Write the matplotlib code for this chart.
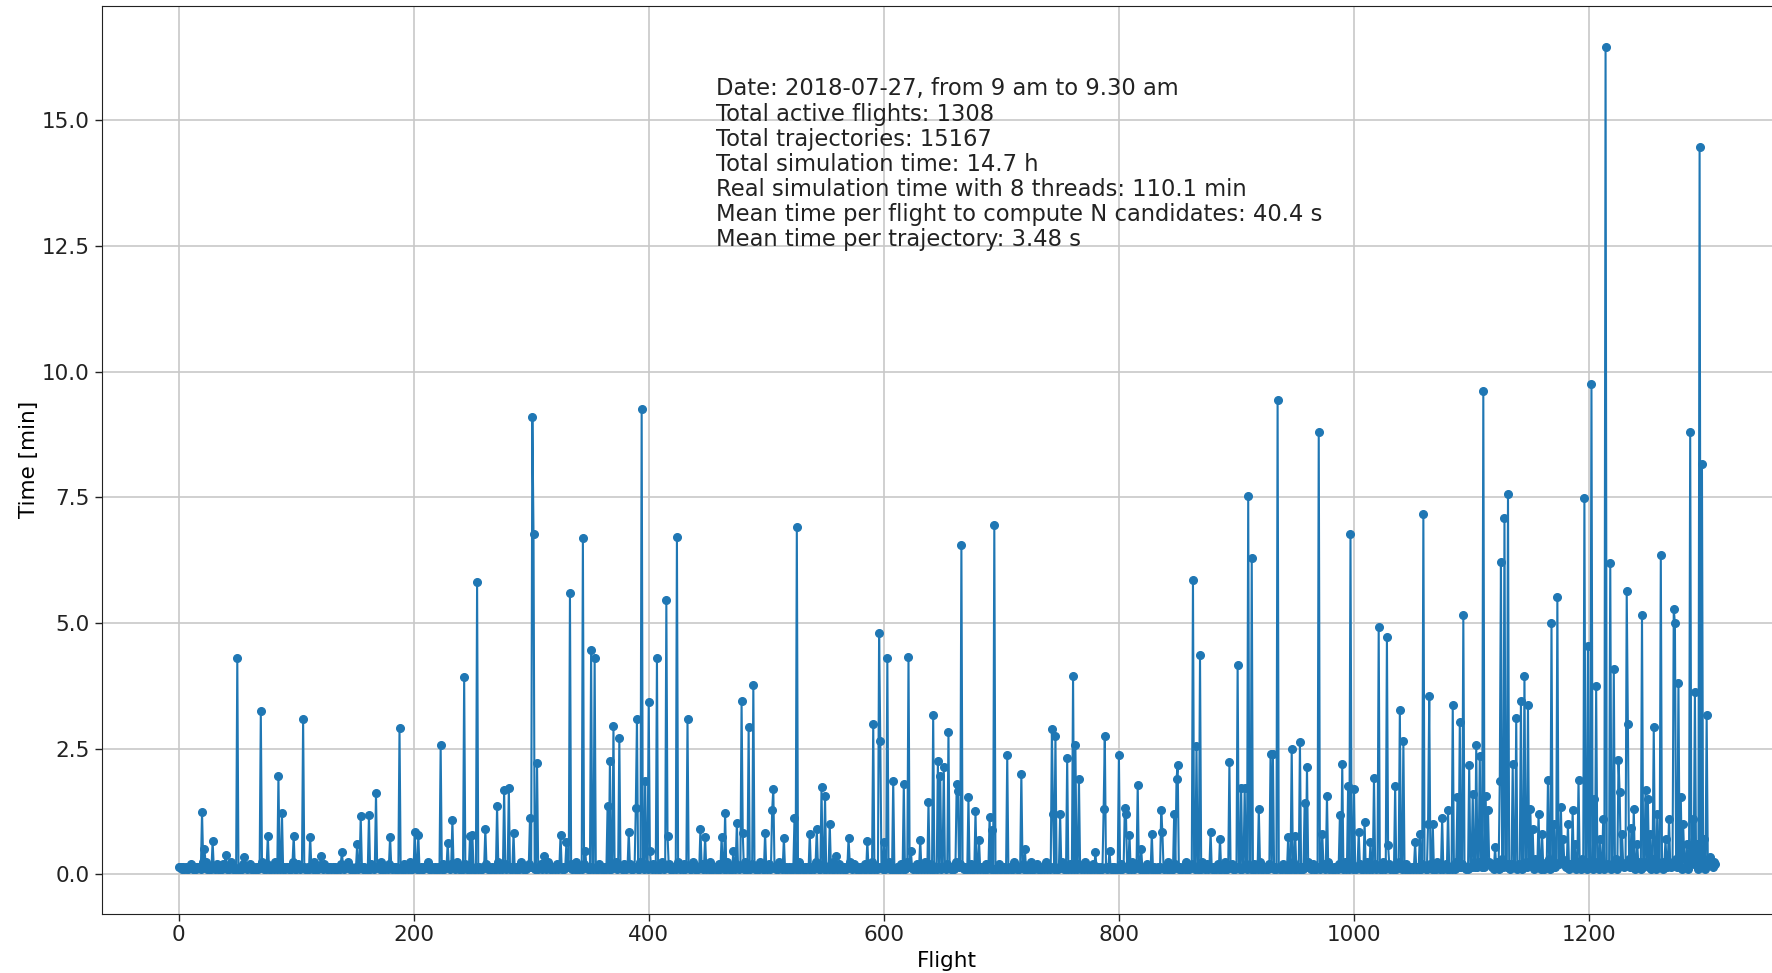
import numpy as np
import matplotlib
matplotlib.use('Agg')
import matplotlib.pyplot as plt

# --- Baseline computation time per flight (digit d -> d * 0.05 min) ---
base_rows = [
    "3332323223 3422323332 3525232322 3234223243 3232352322 3223242323 3422322323 2532243232 3253222342 3233222532",
    "2342332322 3223252322 3232432233 2323223242 3233532322 2342323232 2232432323 3252232324 2323232232 3242323522",
    "3232423223 3352323232 2323242332 3242323532 2323423232 3223523223 3242322323 2352323242 3223242323 2532322343",
    "3232232342 3232532323 2342322323 2332423252 3232342323 2232523242 3223232423 2352323224 3232423232 3225232342",
    "3232423223 2532323422 3232253232 4232322352 2323242322 3252323232 4223232523 2232423232 3252232342 2323253223",
    "3242322323 2532342323 2232423252 3223232423 3252322342 3232232523 2342323223 2532342322 3232423232 5223234232",
    "3232523242 2323242323 5232323242 3223253232 4232322352 3232423223 2532342323 2232423252 3223232423 3252322342",
    "2323242323 2532323242 3223252323 4232232352 3232423223 2352323242 3223242323 2532322342 3232232523 2342323223",
    "3242322323 2532342323 2232423252 3223232423 3252322342 3232232523 2342323223 2532342322 3232423232 5223234232",
    "3232523242 2323242323 5232323242 3223253232 4232322352 3232423223 2532342323 2232423252 3223232423 3252322342",
    "2323242323 2532323242 3223252323 4232232352 3232423223 2352323242 3223242323 2532322342 3232232523 2342323223",
    "3453435243 5324354342 4352436324 3542453342 4352345324 3542634352 4324536243 5342453624 3452436342 5342634524",
    "4352643524 3462534352 4536243524 3452634352 4635243524 5342635243 4352463524 3542634352 4635243524 3542634352",
    "54634354",
]

# --- Spikes: flight index and time [min] ---
peak_idx = [
    20, 22, 29, 40, 50, 56, 70, 76, 85, 88, 98, 106, 112, 121, 139, 152, 155, 162, 168, 180,
    188, 201, 204, 223, 229, 233, 243, 248, 250, 254, 261, 271, 277, 281, 285, 299, 301, 302, 305, 311,
    325, 330, 333, 344, 346, 351, 354, 365, 367, 370, 375, 383, 389, 390, 394, 397, 400, 401, 407, 415,
    416, 424, 433, 444, 448, 462, 465, 472, 475, 479, 480, 485, 489, 499, 505, 506, 515, 524, 526, 537,
    543, 547, 550, 554, 559, 570, 586, 591, 596, 597, 600, 603, 608, 617, 621, 623, 631, 638, 642, 646,
    648, 651, 655, 662, 663, 666, 672, 678, 681, 690, 692, 694, 705, 717, 720, 743, 744, 746, 750, 756,
    761, 763, 766, 780, 787, 788, 792, 800, 805, 806, 809, 816, 819, 828, 836, 837, 847, 849, 850, 863,
    866, 869, 878, 886, 894, 901, 904, 907, 910, 913, 919, 929, 931, 935, 944, 947, 950, 954, 958, 960,
    970, 973, 977, 988, 990, 995, 997, 1000, 1004, 1009, 1014, 1017, 1021, 1028, 1029, 1035, 1039, 1042, 1052, 1056,
    1059, 1063, 1064, 1067, 1075, 1080, 1084, 1088, 1090, 1093, 1098, 1101, 1104, 1107, 1110, 1112, 1114, 1120, 1124, 1125,
    1128, 1131, 1135, 1138, 1142, 1145, 1148, 1150, 1152, 1157, 1160, 1165, 1168, 1170, 1173, 1176, 1178, 1182, 1186, 1188,
    1191, 1196, 1199, 1202, 1204, 1206, 1209, 1212, 1214, 1218, 1221, 1225, 1226, 1228, 1232, 1233, 1236, 1238, 1241, 1245,
    1248, 1250, 1252, 1255, 1258, 1261, 1265, 1268, 1272, 1273, 1276, 1278, 1280, 1283, 1286, 1288, 1290, 1292, 1294, 1296,
    1298, 1300, 1303,
]
peak_val = [
    1.23, 0.50, 0.66, 0.38, 4.30, 0.35, 3.24, 0.77, 1.96, 1.21, 0.77, 3.09, 0.75, 0.37, 0.44, 0.60, 1.15, 1.17, 1.61, 0.74,
    2.91, 0.84, 0.79, 2.58, 0.63, 1.08, 3.93, 0.77, 0.79, 5.82, 0.90, 1.35, 1.68, 1.72, 0.82, 1.12, 9.09, 6.77, 2.21, 0.37,
    0.79, 0.64, 5.59, 6.69, 0.47, 4.46, 4.30, 1.35, 2.26, 2.94, 2.71, 0.84, 1.32, 3.08, 9.25, 1.86, 3.43, 0.47, 4.30, 5.45,
    0.77, 6.70, 3.08, 0.90, 0.74, 0.74, 1.22, 0.47, 1.03, 3.45, 0.82, 2.92, 3.77, 0.82, 1.27, 1.70, 0.72, 1.11, 6.90, 0.80,
    0.90, 1.74, 1.55, 1.01, 0.37, 0.72, 0.67, 2.99, 4.80, 2.66, 0.64, 4.30, 1.86, 1.80, 4.32, 0.47, 0.69, 1.43, 3.17, 2.26,
    1.96, 2.13, 2.84, 1.80, 1.66, 6.56, 1.53, 1.25, 0.68, 1.13, 0.88, 6.94, 2.37, 2.00, 0.50, 2.89, 1.20, 2.76, 1.20, 2.31,
    3.94, 2.57, 1.90, 0.44, 1.30, 2.76, 0.47, 2.37, 1.31, 1.19, 0.79, 1.78, 0.50, 0.81, 1.28, 0.84, 1.19, 1.90, 2.17, 5.86,
    2.56, 4.36, 0.85, 0.71, 2.23, 4.17, 1.72, 1.72, 7.52, 6.29, 1.30, 2.39, 2.39, 9.43, 0.74, 2.50, 0.77, 2.63, 1.41, 2.13,
    8.79, 0.80, 1.55, 1.17, 2.19, 1.76, 6.77, 1.70, 0.84, 1.05, 0.64, 1.91, 4.91, 4.72, 0.58, 1.76, 3.27, 2.65, 0.64, 0.80,
    7.17, 1.00, 3.54, 1.00, 1.12, 1.27, 3.37, 1.53, 3.02, 5.15, 2.17, 1.60, 2.58, 2.35, 9.62, 1.56, 1.27, 0.54, 1.86, 6.21,
    7.08, 7.57, 2.19, 3.10, 3.45, 3.95, 3.36, 1.30, 0.90, 1.20, 0.80, 1.88, 4.99, 1.00, 5.52, 1.33, 0.70, 1.00, 1.27, 0.60,
    1.88, 7.49, 4.54, 9.75, 1.50, 3.74, 0.70, 1.10, 16.46, 6.20, 4.09, 2.27, 1.63, 0.80, 5.63, 2.98, 0.93, 1.30, 0.60, 5.16,
    1.67, 1.50, 0.80, 2.92, 1.20, 6.36, 0.70, 1.10, 5.27, 5.00, 3.80, 1.53, 1.00, 0.60, 8.79, 1.10, 3.63, 0.60, 14.47, 8.16,
    0.70, 3.16, 0.35,
]

info_lines = [
    "Date: 2018-07-27, from 9 am to 9.30 am",
    "Total active flights: 1308",
    "Total trajectories: 15167",
    "Total simulation time: 14.7 h",
    "Real simulation time with 8 threads: 110.1 min",
    "Mean time per flight to compute N candidates: 40.4 s",
    "Mean time per trajectory: 3.48 s",
]

# --- Build series ---
digits = "".join("".join(row.split()) for row in base_rows)
times = np.array([int(c) * 0.05 for c in digits])
for i, v in zip(peak_idx, peak_val):
    if i < len(times):
        times[i] = v
flights = np.arange(len(times))

# --- Plot ---
W, H = 1772, 973
fig = plt.figure(figsize=(W / 100, H / 100), dpi=100)
left, right, top, bottom = 101.7, 1791.7, 5.6, 913.5
ax = fig.add_axes([left / W, (H - bottom) / H, (right - left) / W, (bottom - top) / H])

ax.plot(flights, times, '-o', color='#1f77b4', linewidth=1.5, markersize=5.5)
ax.set_xlim(-65.35, 1372.35)
ax.set_ylim(-0.78, 17.28)
ax.set_xticks([0, 200, 400, 600, 800, 1000, 1200])
ax.set_yticks([0.0, 2.5, 5.0, 7.5, 10.0, 12.5, 15.0])
ax.grid(True, color='#c8c8c8', linewidth=1.2)
ax.set_axisbelow(True)
ax.tick_params(labelsize=15.5, length=5, width=1, colors='#222222')
ax.set_xlabel('Flight', fontsize=15.5, labelpad=4)
ax.set_ylabel('Time [min]', fontsize=15.5, labelpad=2)
for s in ax.spines.values():
    s.set_color('#222222')

ax.text(457, 15.85, "\n".join(info_lines), fontsize=16.3, va='top', ha='left',
        color='#222222', linespacing=1.12)

fig.savefig('out.png', dpi=100)
